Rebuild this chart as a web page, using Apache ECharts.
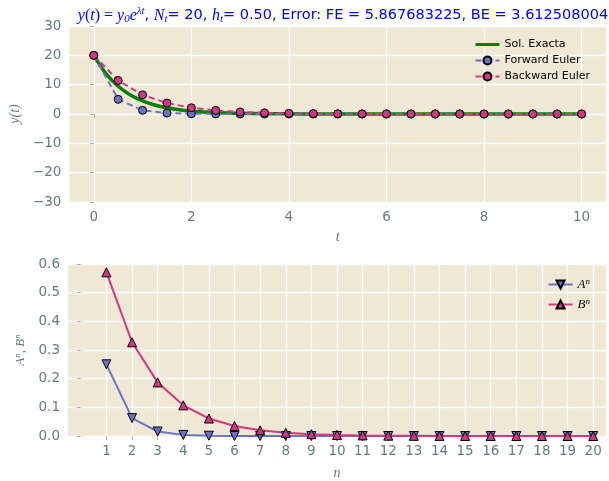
<!DOCTYPE html>
<html>
<head>
<meta charset="utf-8">
<script src="https://cdn.jsdelivr.net/npm/echarts@6/dist/echarts.min.js"></script>
<style>
  html, body { margin: 0; padding: 0; background: #fff; }
  #main { width: 609px; height: 481px; }
</style>
</head>
<body>
<div id="main"></div>
<script>
// datos
const tSteps = [0, 0.5, 1, 1.5, 2, 2.5, 3, 3.5, 4, 4.5, 5, 5.5, 6, 6.5, 7, 7.5, 8, 8.5, 9, 9.5, 10];
const feValues = [20, 5, 1.25, 0.3125, 0.078, 0.0195, 0.0049, 0.0012, 0.0003, 0.0001, 0, 0, 0, 0, 0, 0, 0, 0, 0, 0, 0];
const beValues = [20, 11.43, 6.53, 3.73, 2.13, 1.22, 0.696, 0.398, 0.227, 0.130, 0.074, 0.042, 0.024, 0.0138, 0.0079, 0.0045, 0.0026, 0.0015, 0.0008, 0.0005, 0.0003];
const tExact = [0, 0.25, 0.5, 0.75, 1, 1.25, 1.5, 1.75, 2, 2.25, 2.5, 2.75, 3, 3.5, 4, 4.5, 5, 6, 7, 8, 9, 10];
const exactValues = [20, 13.75, 9.45, 6.49, 4.46, 3.07, 2.11, 1.45, 1.0, 0.685, 0.47, 0.323, 0.222, 0.105, 0.05, 0.023, 0.011, 0.0025, 0.0006, 0.0001, 0, 0];
const nSteps = [1, 2, 3, 4, 5, 6, 7, 8, 9, 10, 11, 12, 13, 14, 15, 16, 17, 18, 19, 20];
const aValues = [0.25, 0.0625, 0.0156, 0.0039, 0.001, 0.0002, 0.0001, 0, 0, 0, 0, 0, 0, 0, 0, 0, 0, 0, 0, 0];
const bValues = [0.571, 0.327, 0.187, 0.107, 0.061, 0.035, 0.020, 0.011, 0.0065, 0.0037, 0.0021, 0.0012, 0.0007, 0.0004, 0.0002, 0.0001, 0.0001, 0, 0, 0];
const tTicks = [0, 2, 4, 6, 8, 10];

const textColor = '#657b83';
const bg = '#eee8d5';
const violet = '#6c71c4';
const magenta = '#d33682';
const mathFont = '"Liberation Serif", "DejaVu Serif", serif';

function pairs(xs, ys) { return xs.map((x, i) => [x, ys[i]]); }
function minus(v) { return String(v).replace('-', '\u2212'); }

const tickStyle = { show: true, length: 4, lineStyle: { color: '#a9b1b1', width: 1 } };
const gridLine = { show: true, lineStyle: { color: '#ffffff', width: 1.3 } };
const bgArea = { show: true, areaStyle: { color: [bg] } };
const labelStyle = { color: textColor, fontSize: 13.5, fontFamily: 'DejaVu Sans' };
const blue = '#0000ff';

const chart = echarts.init(document.getElementById('main'));
chart.setOption({
  backgroundColor: '#ffffff',
  animation: false,
  title: {
    left: 338, top: 1, textAlign: 'center',
    text: '{m|y}{n|(}{m|t}{n|) = }{m|y}{sub|0}{m|e}{sup|λt}{s|, }{m|N}{sub|t}{s|= 20, }{m|h}{sub|t}{s|= 0.50, Error: FE = 5.867683225, BE = 3.612508004}',
    textStyle: {
      fontWeight: 'normal',
      rich: {
        m: { fontFamily: mathFont, fontStyle: 'italic', fontWeight: 'normal', fontSize: 16, color: blue },
        n: { fontFamily: mathFont, fontWeight: 'normal', fontSize: 16, color: blue },
        sub: { fontFamily: mathFont, fontStyle: 'italic', fontWeight: 'normal', fontSize: 11, color: blue, verticalAlign: 'bottom', padding: [6, 0, 0, 0] },
        sup: { fontFamily: mathFont, fontStyle: 'italic', fontWeight: 'normal', fontSize: 11, color: blue, verticalAlign: 'top', padding: [0, 0, 8, 0] },
        s: { fontFamily: 'DejaVu Sans', fontWeight: 'normal', fontSize: 14.5, color: blue }
      }
    }
  },
  grid: [
    { left: 68, top: 26, width: 538, height: 176 },
    { left: 68, top: 264, width: 538, height: 176 }
  ],
  legend: [
    {
      right: 14, top: 34, orient: 'vertical', itemGap: 5, itemWidth: 24, itemHeight: 10,
      data: [
        { name: 'Sol. Exacta', icon: 'path://M0,0 M24,10 M0,3.5 L24,3.5 L24,6.5 L0,6.5 Z' },
        'Forward Euler', 'Backward Euler'
      ],
      textStyle: { fontSize: 11, color: '#000', fontFamily: 'DejaVu Sans' }
    },
    {
      right: 14, top: 272, orient: 'vertical', itemGap: 6, itemWidth: 24, itemHeight: 10,
      data: ['A', 'B'],
      formatter: name => '{m|' + name + '}{sup|n}',
      textStyle: {
        rich: {
          m: { fontFamily: mathFont, fontStyle: 'italic', fontSize: 13, color: '#000' },
          sup: { fontFamily: mathFont, fontStyle: 'italic', fontSize: 9, color: '#000', verticalAlign: 'top', padding: [0, 0, 6, 0] }
        }
      }
    }
  ],
  xAxis: [
    {
      gridIndex: 0, type: 'value', min: -0.5, max: 10.5,
      axisLine: { show: false },
      axisTick: Object.assign({ customValues: tTicks }, tickStyle),
      axisLabel: Object.assign({ customValues: tTicks, margin: 8 }, labelStyle),
      splitLine: gridLine,
      name: 't', nameLocation: 'middle', nameGap: 28,
      nameTextStyle: { fontFamily: mathFont, fontStyle: 'italic', fontSize: 14, color: textColor }
    },
    {
      gridIndex: 1, type: 'value', min: -0.5, max: 20.5,
      axisLine: { show: false },
      axisTick: Object.assign({ customValues: nSteps }, tickStyle),
      axisLabel: Object.assign({ customValues: nSteps, margin: 8 }, labelStyle),
      splitLine: gridLine,
      name: 'n', nameLocation: 'middle', nameGap: 30,
      nameTextStyle: { fontFamily: mathFont, fontStyle: 'italic', fontSize: 14, color: textColor }
    }
  ],
  yAxis: [
    {
      gridIndex: 0, type: 'value', min: -30, max: 30, interval: 10,
      axisLine: { show: false },
      axisTick: tickStyle,
      axisLabel: Object.assign({ formatter: v => minus(v) }, labelStyle),
      splitLine: gridLine,
      splitArea: bgArea,
      name: 'y(t)', nameLocation: 'middle', nameGap: 46,
      nameTextStyle: { fontFamily: mathFont, fontStyle: 'italic', fontSize: 14, color: textColor }
    },
    {
      gridIndex: 1, type: 'value', min: 0, max: 0.6, interval: 0.1,
      axisLine: { show: false },
      axisTick: tickStyle,
      axisLabel: Object.assign({ formatter: v => v.toFixed(1) }, labelStyle),
      splitLine: gridLine,
      splitArea: bgArea,
      name: '{m|A}{sup|n}{m|, B}{sup|n}', nameLocation: 'middle', nameGap: 40,
      nameTextStyle: {
        color: textColor,
        rich: {
          m: { fontFamily: mathFont, fontStyle: 'italic', fontSize: 13, color: textColor },
          sup: { fontFamily: mathFont, fontStyle: 'italic', fontSize: 9, color: textColor, verticalAlign: 'top', padding: [0, 0, 6, 0] }
        }
      }
    }
  ],
  series: [
    {
      name: 'Sol. Exacta', type: 'line', xAxisIndex: 0, yAxisIndex: 0,
      data: pairs(tExact, exactValues), smooth: 0.3, showSymbol: false, symbol: 'none',
      lineStyle: { color: '#008000', width: 3.5 }, itemStyle: { color: '#008000' }
    },
    {
      name: 'Forward Euler', type: 'line', xAxisIndex: 0, yAxisIndex: 0,
      data: pairs(tSteps, feValues), symbol: 'circle', symbolSize: 8,
      lineStyle: { color: violet, width: 2, type: [6, 4] },
      itemStyle: { color: violet, borderColor: '#000', borderWidth: 1 }
    },
    {
      name: 'Backward Euler', type: 'line', xAxisIndex: 0, yAxisIndex: 0,
      data: pairs(tSteps, beValues), symbol: 'circle', symbolSize: 8,
      lineStyle: { color: magenta, width: 2, type: [6, 4] },
      itemStyle: { color: magenta, borderColor: '#000', borderWidth: 1 }
    },
    {
      name: 'A', type: 'line', xAxisIndex: 1, yAxisIndex: 1,
      data: pairs(nSteps, aValues), symbol: 'triangle', symbolRotate: 180, symbolSize: 9,
      lineStyle: { color: violet, width: 2 },
      itemStyle: { color: violet, borderColor: '#000', borderWidth: 1 }
    },
    {
      name: 'B', type: 'line', xAxisIndex: 1, yAxisIndex: 1,
      data: pairs(nSteps, bValues), symbol: 'triangle', symbolSize: 9,
      lineStyle: { color: magenta, width: 2 },
      itemStyle: { color: magenta, borderColor: '#000', borderWidth: 1 }
    }
  ]
});
</script>
</body>
</html>
